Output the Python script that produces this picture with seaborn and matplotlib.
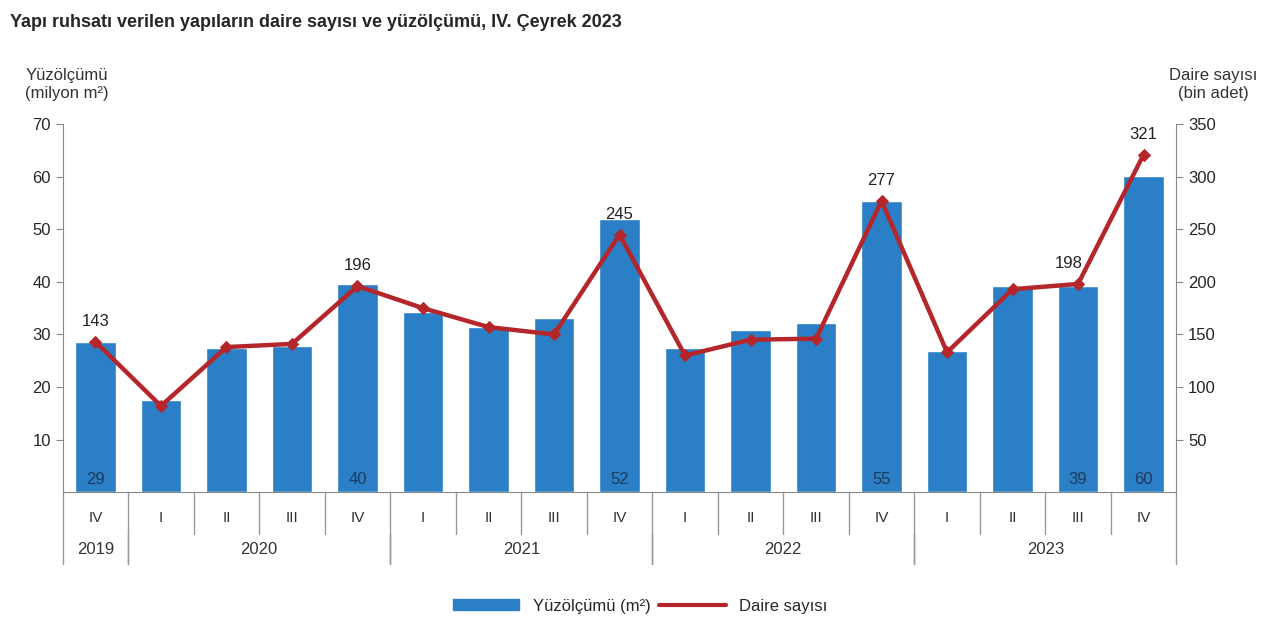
import matplotlib
matplotlib.use("Agg")
import matplotlib.pyplot as plt
import seaborn as sns
import pandas as pd
import numpy as np

quarters = ["IV","I","II","III","IV","I","II","III","IV","I","II","III","IV","I","II","III","IV"]
years = ["2019","2020","2020","2020","2020","2021","2021","2021","2021","2022","2022","2022","2022","2023","2023","2023","2023"]
area = [28.5,17.5,27.4,27.8,39.6,34.3,31.5,33.2,52.0,27.4,30.9,32.2,55.3,26.9,39.2,39.2,60.2]
dwellings = [143,82,138,141,196,175,157,150,245,130,145,146,277,133,193,198,321]
area_labels = {0:"29",4:"40",8:"52",12:"55",15:"39",16:"60"}
dw_labels = {0:"143",4:"196",8:"245",12:"277",15:"198",16:"321"}
year_groups = [("2019",0,0),("2020",1,4),("2021",5,8),("2022",9,12),("2023",13,16)]

sns.set_style("white")
plt.rcParams['font.family'] = ['Liberation Sans', 'DejaVu Sans']
df = pd.DataFrame({"x": np.arange(len(area)), "area": area, "dw": dwellings})

fig = plt.figure(figsize=(12.8, 6.4), dpi=100)
ax = fig.add_axes([0.049, 0.231, 0.870, 0.575])
blue = "#2a7fc6"; red = "#b5262b"
sns.barplot(data=df, x="x", y="area", color=blue, width=0.62, ax=ax, saturation=1)
ax.set_ylim(0, 70); ax.set_xlim(-0.5, len(area)-0.5)
ax.set_yticks(range(10, 80, 10))
ax.tick_params(axis='y', labelsize=12, length=5, color="#888888", direction='out', left=True)
ax.set_xticks([]); ax.set_xlabel(""); ax.set_ylabel("")
for s in ["top", "right"]: ax.spines[s].set_visible(False)
for s in ["left", "bottom"]: ax.spines[s].set_color("#888888")
for i, t in area_labels.items():
    ax.text(i, 2.5, t, ha='center', va='center', fontsize=12, color="#1f3a5f")

ax2 = ax.twinx()
ax2.set_ylim(0, 350)
sns.lineplot(data=df, x="x", y="dw", color=red, lw=3.2, marker="D", markersize=6, markeredgecolor=red, ax=ax2)
ax2.set_yticks(range(50, 400, 50))
ax2.tick_params(axis='y', labelsize=12, length=5, color="#888888", right=True)
ax2.set_ylabel(""); ax2.set_xlabel("")
for s in ["top", "left", "bottom"]: ax2.spines[s].set_visible(False)
ax2.spines["right"].set_color("#888888")
ax2.set_xlim(-0.5, len(area)-0.5)
for i, t in dw_labels.items():
    dx = -0.15 if i == 15 else 0
    ax2.text(i+dx, dwellings[i]+12, t, ha='center', va='bottom', fontsize=12, color="#222222")

# category axis below
tr = ax.get_xaxis_transform()
for i, q in enumerate(quarters):
    ax.text(i, -0.07, q, transform=tr, ha='center', va='center', fontsize=11, color="#333333")
for i in range(len(quarters)+1):
    ax.plot([i-0.5, i-0.5], [0, -0.115], transform=tr, color="#999999", lw=1, clip_on=False)
for name, a, b in year_groups:
    ax.text((a+b)/2, -0.155, name, transform=tr, ha='center', va='center', fontsize=12, color="#333333")
    for e in (a-0.5, b+0.5):
        ax.plot([e, e], [-0.115, -0.195], transform=tr, color="#999999", lw=1, clip_on=False)

fig.text(0.008, 0.965, "Yapı ruhsatı verilen yapıların daire sayısı ve yüzölçümü, IV. Çeyrek 2023",
         fontsize=13, fontweight='bold', va='center')
fig.text(0.052, 0.868, "Yüzölçümü\n(milyon m²)", fontsize=12, ha='center', va='center', color="#333333")
fig.text(0.948, 0.868, "Daire sayısı\n(bin adet)", fontsize=12, ha='center', va='center', color="#333333")

from matplotlib.patches import Patch
from matplotlib.lines import Line2D
handles = [Patch(color=blue, label="Yüzölçümü (m²)"), Line2D([0],[0], color=red, lw=3, label="Daire sayısı")]
fig.legend(handles=handles, loc='center', bbox_to_anchor=(0.5, 0.053), ncol=2, frameon=False, fontsize=12,
           handlelength=4, handleheight=0.6, columnspacing=0.5)
fig.savefig("out.png", dpi=100)
